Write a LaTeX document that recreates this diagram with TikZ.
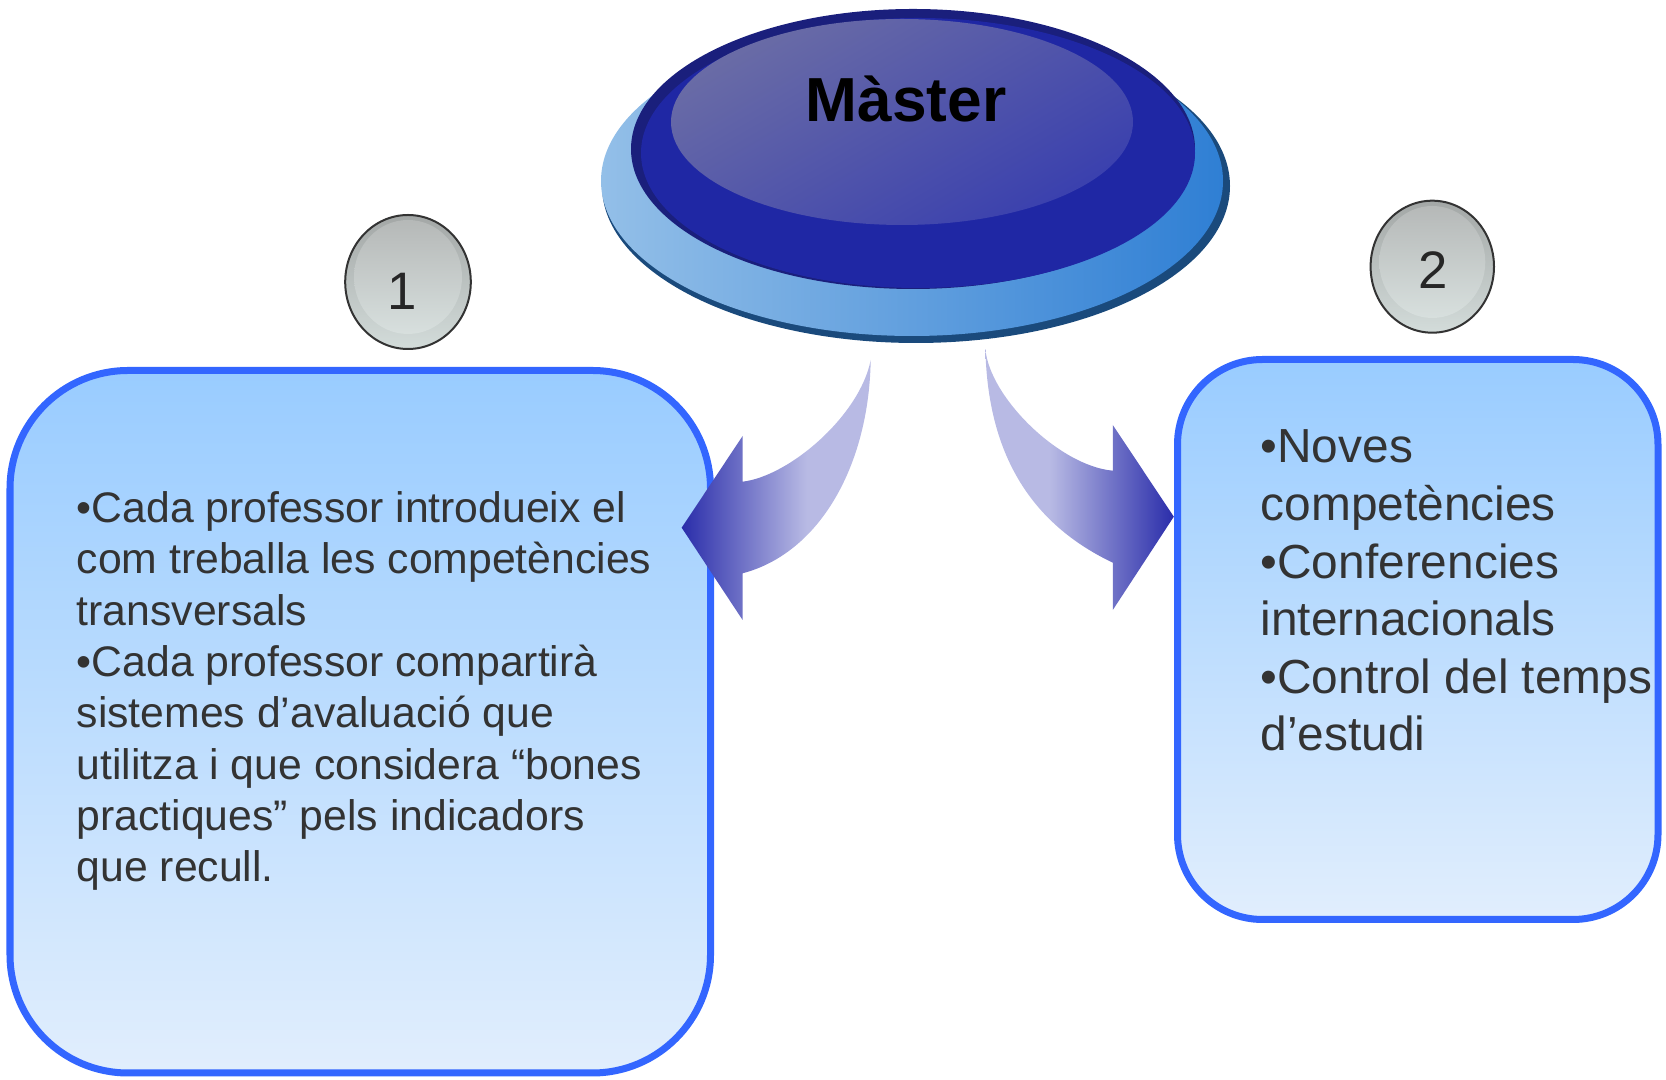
\documentclass[tikz,border=0pt]{standalone}
\usepackage{fontspec}
\setmainfont{Liberation Sans}

\definecolor{randblau}{HTML}{3366FF}
\definecolor{kastenoben}{HTML}{99CCFF}
\definecolor{kastenunten}{HTML}{E1EEFD}
\definecolor{textgrau}{HTML}{333333}
\definecolor{pfeildunkel}{HTML}{2A2DAA}
\definecolor{pfeilhell}{HTML}{B8BAE4}
\definecolor{scheibehell}{HTML}{93BFE8}
\definecolor{scheibemitte}{HTML}{2F7FD4}
\definecolor{scheiberand}{HTML}{1A4A7C}
\definecolor{deckelrand}{HTML}{1A1F7C}
\definecolor{deckel}{HTML}{1F27A4}
\definecolor{flaecheoben}{HTML}{6A6CA6}
\definecolor{flaecheunten}{HTML}{3A40AE}
\definecolor{knopfoben}{HTML}{A3A7A6}
\definecolor{knopfunten}{HTML}{D3DCDA}

\pgfdeclarehorizontalshading{pfeillinks}{100bp}{color(0bp)=(pfeildunkel); color(25bp)=(pfeildunkel); color(58bp)=(pfeilhell); color(100bp)=(pfeilhell)}
\pgfdeclarehorizontalshading{pfeilrechts}{100bp}{color(0bp)=(pfeilhell); color(42bp)=(pfeilhell); color(75bp)=(pfeildunkel); color(100bp)=(pfeildunkel)}

\begin{document}
\begin{tikzpicture}[x=0.01cm,y=-0.01cm,
  kasten/.style={draw=randblau,line width=0.07cm,top color=kastenoben,bottom color=kastenunten},
  knopf/.style={draw=black!80,line width=0.02cm,top color=knopfoben,bottom color=knopfunten},
  glanz/.style={top color=knopfoben!80!white,bottom color=knopfunten!90!white},
  ziffer/.style={font=\fontsize{15}{18}\selectfont,text=black!85,inner sep=0,anchor=base},
  liste/.style={align=left,inner sep=0,text=textgrau,anchor=base west}]

\useasboundingbox (0,0) rectangle (1666,1080);

%SCHEIBE UNTEN
\fill[scheiberand] (916,186) ellipse (314 and 157);
\shade[left color=scheibehell,right color=scheibemitte] (912,181) ellipse (311 and 155);

%SCHEIBE OBEN
\fill[deckelrand] (913,149) ellipse (282 and 140);
\fill[deckel] (918,153) ellipse (277 and 135);
\shade[top color=flaecheoben,bottom color=flaecheunten,shading angle=30] (902,122) ellipse (231 and 103);
\node[font=\fontsize{17.7}{21}\selectfont\bfseries,inner sep=0,anchor=base] (master) at (906,122) {Màster};




%KASTEN NR. 1 (links), Anker = Grundlinie der letzten Zeile
\draw[kasten,rounded corners=1.18cm] (10,370.5) rectangle (710.5,1073);
\node[liste,font=\fontsize{12.15}{14.6}\selectfont] (text1) at (76,881.8)
  {•Cada professor introdueix el\\com treballa les competències\\transversals\\•Cada professor compartirà\\sistemes d’avaluació que\\utilitza i que considera “bones\\practiques” pels indicadors\\que recull.};

%KASTEN NR. 2 (rechts)
\draw[kasten,rounded corners=0.85cm] (1177.5,359.5) rectangle (1658,919.5);
\node[liste,font=\fontsize{13.6}{16.37}\selectfont] (text2) at (1260,750.8)
  {•Noves\\competències\\•Conferencies\\internacionals\\•Control del temps\\d’estudi};




%PFEIL NACH LINKS
\shade[shading=pfeillinks] (870.7,360) .. controls (869,465) and (820,553) .. (742.6,573.3)
  -- (742.6,620) -- (681.7,527.7) -- (742.6,436) -- (742.6,481.7)
  .. controls (790,476) and (860,415) .. (870.7,360) -- cycle;

%PFEIL NACH RECHTS
\shade[shading=pfeilrechts] (985.4,349.3) .. controls (990,398) and (1060,466) .. (1112.8,470.7)
  -- (1112.8,425) -- (1173.8,516.7) -- (1112.8,610) -- (1112.8,562.7)
  .. controls (1040,528) and (988,465) .. (985.4,349.3) -- cycle;




%KNOPF NR. 1
\draw[knopf] (408,282) ellipse (62.8 and 67);
\shade[glanz] (408,277) ellipse (54 and 57);
\node[ziffer] (nr1) at (402,309.3) {1};

%KNOPF NR. 2
\draw[knopf] (1432.3,266.7) ellipse (61.7 and 66);
\shade[glanz] (1432.3,262) ellipse (53 and 56);
\node[ziffer] (nr2) at (1433,289) {2};

\end{tikzpicture}
\end{document}
